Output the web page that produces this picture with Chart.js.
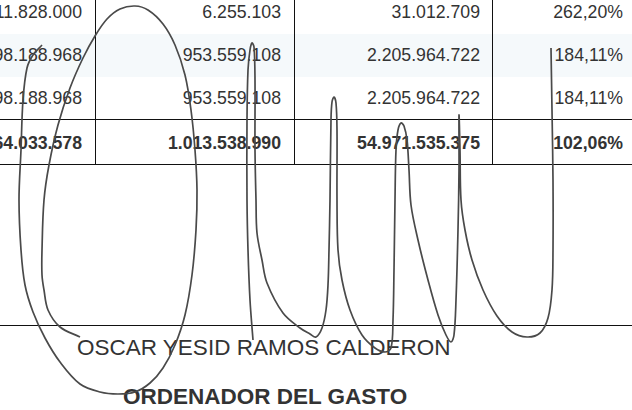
<!DOCTYPE html>
<html>
<head>
<meta charset="utf-8">
<script src="https://cdn.jsdelivr.net/npm/chart.js@4"></script>
<style>
html,body{margin:0;padding:0;background:#fff;}
#page{position:relative;width:632px;height:410px;overflow:hidden;background:#fff;font-family:"Liberation Sans",Arial,sans-serif;color:#333;}
.cell{position:absolute;font-size:17.7px;line-height:17.7px;white-space:nowrap;text-align:right;}
.b{font-weight:bold;}
.hl{position:absolute;left:0;width:632px;height:1px;background:#111;}
.vl{position:absolute;top:0;width:1px;height:165px;background:#111;}
.band{position:absolute;left:0;width:632px;top:34px;height:43px;background:#f5f9fb;}
#sig{position:absolute;left:0;top:0;}
.name{position:absolute;font-size:22.5px;line-height:22.5px;white-space:nowrap;}
</style>
</head>
<body>
<div id="page">
  <div class="band"></div>
  <div id="cells"></div>
  <div class="hl" style="top:119px"></div>
  <div class="hl" style="top:164px"></div>
  <div class="vl" style="left:95px"></div>
  <div class="vl" style="left:294px"></div>
  <div class="vl" style="left:492px"></div>
  <div class="hl" style="top:325px"></div>
  <div class="name" id="name1" style="left:77px;top:337px;"></div>
  <div class="name b" id="name2" style="left:123px;top:386px;"></div>
  <canvas id="sig" width="632" height="410"></canvas>
</div>
<script>
// Table content
const colA = ["11.828.000", "98.188.968", "98.188.968", "64.033.578"];
const colB = ["6.255.103", "953.559.108", "953.559.108", "1.013.538.990"];
const colC = ["31.012.709", "2.205.964.722", "2.205.964.722", "54.971.535.375"];
const colD = ["262,20%", "184,11%", "184,11%", "102,06%"];
const signerName = "OSCAR YESID RAMOS CALDERON";
const signerRole = "ORDENADOR DEL GASTO";

// Signature strokes
const strokeAX = [42,33,27,23,21,19,21,25,33,45,60,80,100,118,135,150,163,175,185,192,196,197,195,191,185,175,163,148,135,120,107,95,83,70,58,49,44,42,42,44,48,60,80,93];
const strokeAY = [45,55,68,100,150,200,250,285,312,338,362,384,392,394,392,383,368,345,315,275,230,190,150,110,75,45,24,10,6,9,19,36,58,88,125,165,200,250,275,290,310,327,337];
const strokeBX = [253,250,248,247,247,248,250,252,254,255,255,256,257,262,267,283,300,310,316,322,326,328,329,330,331,332,334,336,337,337,338,342,350,362,375,385,391,393,394,395,396,398,401,404,407,409,411,418,428,438,446,451,454,456,458,459,459,460,461,465,472,483,497,512,527,540,548,552,553,553,552,551];
const strokeBY = [340,300,250,200,120,70,50,43,47,80,150,200,233,260,283,313,328,334,337,328,310,285,250,200,120,102,97,103,130,200,250,280,310,335,348,352,348,320,270,200,150,130,123,126,140,170,205,240,280,315,335,342,335,300,230,170,115,150,200,230,260,290,316,332,337,333,318,290,250,180,110,48];

const rowTops = [4.4, 46.9, 89.9, 134.9];
const cells = document.getElementById('cells');
function addCol(values, right) {
  values.forEach((v, i) => {
    const d = document.createElement('div');
    d.className = 'cell' + (i === 3 ? ' b' : '');
    d.textContent = v;
    d.style.right = (632 - right) + 'px';
    d.style.top = rowTops[i] + 'px';
    cells.appendChild(d);
  });
}
addCol(colA, 82);
addCol(colB, 281);
addCol(colC, 480);
addCol(colD, 623);
document.getElementById('name1').textContent = signerName;
document.getElementById('name2').textContent = signerRole;

function pts(xs, ys) { return xs.map((x, i) => ({x: x, y: ys[i]})); }

new Chart(document.getElementById('sig'), {
  type: 'scatter',
  data: {
    datasets: [
      {data: pts(strokeAX, strokeAY), showLine: true, tension: 0.35, borderColor: '#4a4a4a', borderWidth: 1.7, pointRadius: 0, clip: false},
      {data: pts(strokeBX, strokeBY), showLine: true, tension: 0.35, borderColor: '#4a4a4a', borderWidth: 1.7, pointRadius: 0, clip: false}
    ]
  },
  options: {
    responsive: false,
    animation: false,
    devicePixelRatio: 1,
    layout: {padding: 0},
    plugins: {legend: {display: false}, tooltip: {enabled: false}},
    events: [],
    scales: {
      x: {type: 'linear', min: 0, max: 632, display: false},
      y: {type: 'linear', min: 0, max: 410, reverse: true, display: false}
    }
  }
});
</script>
</body>
</html>
